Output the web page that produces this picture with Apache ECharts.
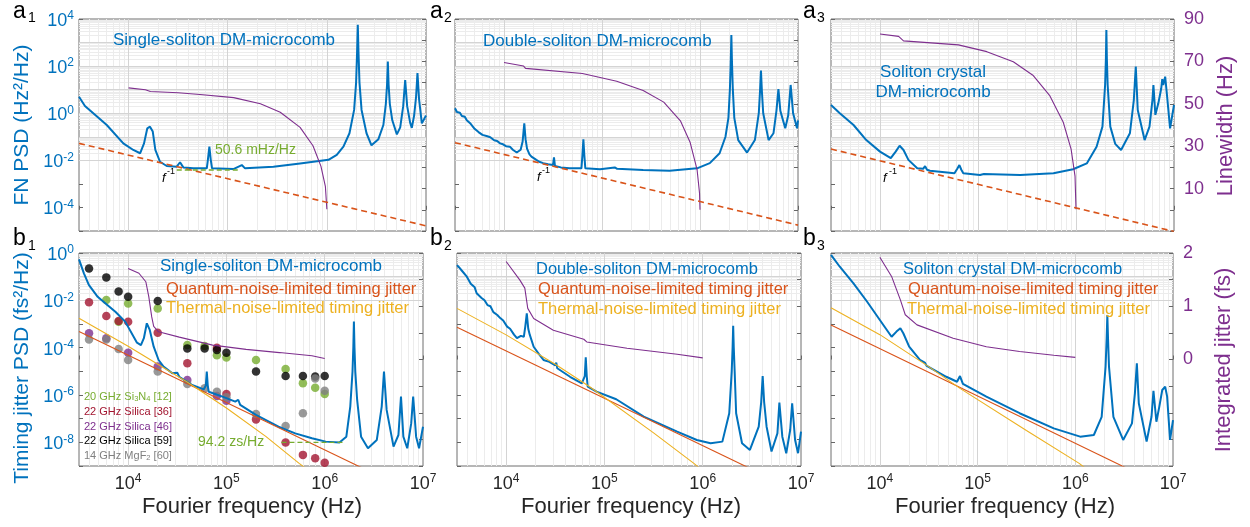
<!DOCTYPE html>
<html>
<head>
<meta charset="utf-8">
<script src="https://cdn.jsdelivr.net/npm/echarts@6/dist/echarts.min.js"></script>
<style>
html, body { margin: 0; padding: 0; background: #fff; }
#chart { width: 1250px; height: 527px; }
</style>
</head>
<body>
<div id="chart"></div>
<script>
var FONT = '"Liberation Sans", Arial, Helvetica, sans-serif';
var FMIN = Math.pow(10, 3.5), FMAX = 1e7;

// ---- FN PSD, [log10 f (Hz), log10 PSD (Hz^2/Hz)] ----
var a1Fn = [[3.5,0.70],[3.56,0.31],[3.644,0.0],[3.78,-0.50],[3.947,-1.28],[4.048,-1.56],[4.116,-1.70],[4.156,-1.28],[4.189,-0.64],[4.216,-0.57],[4.244,-0.78],[4.27,-1.56],[4.317,-2.06],[4.385,-2.24],[4.486,-2.27],[4.519,-2.08],[4.552,-2.30],[4.653,-2.34],[4.789,-2.34],[4.80,-1.98],[4.815,-1.42],[4.829,-1.98],[4.842,-2.34],[5.057,-2.37],[5.142,-2.20],[5.175,-2.34],[5.461,-2.27],[5.73,-2.13],[6.016,-1.98],[6.10,-1.77],[6.167,-1.42],[6.228,-0.85],[6.275,0.14],[6.295,1.3],[6.305,2.6],[6.312,3.75],[6.319,2.6],[6.329,1.3],[6.35,0.14],[6.40,-0.85],[6.45,-1.36],[6.52,-1.1],[6.57,-0.5],[6.595,0.4],[6.607,1.2],[6.615,2.19],[6.623,1.2],[6.635,0.4],[6.66,-0.3],[6.706,-0.9],[6.74,-0.6],[6.77,0.3],[6.79,1.41],[6.81,0.3],[6.84,-0.4],[6.857,-0.62],[6.88,-0.1],[6.90,0.7],[6.914,1.70],[6.93,0.6],[6.958,-0.43],[7.0,-0.1]];
var a2Fn = [[3.5,0.21],[3.52,0.05],[3.55,0.02],[3.57,-0.12],[3.60,-0.15],[3.62,-0.30],[3.64,-0.34],[3.66,-0.45],[3.68,-0.52],[3.70,-0.66],[3.72,-0.62],[3.74,-0.80],[3.76,-0.76],[3.78,-0.92],[3.80,-0.86],[3.83,-0.98],[3.86,-1.02],[3.88,-0.95],[3.90,-1.15],[3.93,-1.18],[3.96,-1.28],[3.99,-1.32],[4.02,-1.40],[4.06,-1.42],[4.09,-1.55],[4.13,-1.67],[4.17,-1.55],[4.19,-1.2],[4.207,-0.43],[4.22,-1.1],[4.235,-1.5],[4.26,-1.75],[4.28,-1.84],[4.30,-1.9],[4.33,-1.98],[4.36,-2.06],[4.40,-2.12],[4.45,-2.17],[4.50,-2.2],[4.51,-1.87],[4.52,-2.24],[4.58,-2.30],[4.67,-2.34],[4.79,-2.34],[4.80,-1.8],[4.81,-1.11],[4.82,-1.8],[4.83,-2.34],[4.98,-2.38],[5.13,-2.30],[5.14,-2.22],[5.155,-2.36],[5.42,-2.41],[5.69,-2.44],[5.97,-2.34],[6.10,-2.12],[6.20,-1.7],[6.26,-1.0],[6.29,-0.2],[6.305,1.0],[6.314,2.2],[6.32,3.32],[6.326,2.2],[6.335,1.0],[6.35,-0.2],[6.39,-1.14],[6.48,-1.67],[6.56,-1.14],[6.60,0.0],[6.612,0.9],[6.622,1.81],[6.632,0.9],[6.645,0.0],[6.70,-1.14],[6.75,-0.85],[6.78,0.1],[6.80,1.02],[6.82,0.1],[6.87,-0.64],[6.90,-0.1],[6.925,1.2],[6.95,0.0],[6.99,-0.64],[7.0,-0.3]];
var a3Fn = [[3.5,0.35],[3.59,0.0],[3.73,-0.5],[3.86,-1.14],[4.0,-1.63],[4.11,-1.91],[4.16,-1.63],[4.20,-1.38],[4.24,-1.56],[4.29,-1.98],[4.38,-2.34],[4.44,-2.36],[4.46,-2.25],[4.48,-2.40],[4.51,-2.44],[4.76,-2.55],[4.79,-2.35],[4.81,-2.2],[4.83,-2.4],[4.85,-2.55],[5.02,-2.62],[5.06,-2.58],[5.08,-2.62],[5.43,-2.62],[5.77,-2.55],[5.97,-2.38],[6.11,-2.13],[6.21,-1.42],[6.27,-0.57],[6.297,1.2],[6.305,2.3],[6.31,3.53],[6.315,2.3],[6.323,1.2],[6.35,-0.57],[6.40,-1.3],[6.46,-1.56],[6.55,-0.85],[6.59,0.56],[6.61,1.98],[6.63,0.14],[6.70,-1.14],[6.75,-0.57],[6.78,0.56],[6.79,1.2],[6.81,-0.07],[6.84,0.42],[6.87,1.06],[6.88,1.45],[6.89,1.2],[6.91,1.55],[6.93,0.7],[6.96,-0.64],[7.0,0.35]];

// f^-1 guide lines, [log10 f, log10 PSD]
var a1Fit = [[3.5,-1.28],[7,-4.78]];
var a2Fit = [[3.5,-1.25],[7,-4.75]];
var a3Fit = [[3.5,-1.52],[7,-5.02]];
var a1Floor = [[4.486,-2.41],[5.125,-2.41]];

// linewidth, [log10 f, Hz]
var a1Lw = [[4.0,57.5],[4.17,56.6],[4.22,55.8],[4.5,55.2],[4.72,54.4],[5.06,52.9],[5.33,50],[5.53,46],[5.73,38.9],[5.86,30.2],[5.94,20.6],[5.985,11.1],[6.0,0.3]];
var a2Lw = [[4.0,69.5],[4.20,67.8],[4.22,66.7],[4.80,64.3],[4.82,63.5],[5.15,60.6],[5.42,56.3],[5.63,50.8],[5.80,42],[5.90,31.7],[5.97,19],[5.995,8],[6.0,0]];
var a3Lw = [[4.0,82.9],[4.19,81.8],[4.24,79.7],[4.80,77.8],[5.09,74.6],[5.36,69.8],[5.56,63.5],[5.73,54],[5.87,41.3],[5.95,28.6],[5.99,15.9],[6.0,0.3]];

// timing jitter PSD, [log10 f, log10 PSD (fs^2/Hz)]
var b1Tj = [[3.5,-0.27],[3.55,-0.86],[3.60,-1.35],[3.69,-1.85],[3.77,-2.13],[3.87,-2.48],[3.97,-2.9],[4.09,-3.79],[4.13,-3.89],[4.16,-3.6],[4.19,-2.97],[4.22,-3.25],[4.26,-3.96],[4.31,-4.52],[4.36,-4.8],[4.45,-5.08],[4.50,-5.06],[4.52,-5.23],[4.65,-5.58],[4.77,-5.76],[4.79,-5.6],[4.80,-5.01],[4.81,-5.6],[4.82,-5.86],[4.96,-6.07],[5.09,-6.28],[5.12,-6.2],[5.14,-6.42],[5.30,-6.84],[5.53,-7.34],[5.70,-7.62],[5.87,-7.83],[6.01,-7.97],[6.15,-8.01],[6.22,-7.76],[6.26,-6.49],[6.283,-5.0],[6.291,-4.0],[6.297,-2.9],[6.303,-4.0],[6.311,-5.0],[6.33,-6.21],[6.37,-7.76],[6.44,-8.25],[6.53,-7.9],[6.58,-6.49],[6.603,-5.01],[6.63,-6.63],[6.70,-8.18],[6.75,-7.69],[6.776,-6.07],[6.80,-7.76],[6.84,-8.25],[6.88,-7.2],[6.90,-6.07],[6.93,-7.76],[6.96,-8.25],[7.0,-7.34]];
var b2Tj = [[3.5,-0.51],[3.52,-0.6],[3.55,-0.75],[3.57,-0.8],[3.60,-1.0],[3.62,-1.05],[3.64,-1.3],[3.66,-1.35],[3.68,-1.45],[3.70,-1.70],[3.72,-1.65],[3.75,-1.9],[3.78,-2.0],[3.81,-2.2],[3.84,-2.25],[3.87,-2.5],[3.91,-2.62],[3.94,-2.75],[3.97,-2.85],[4.01,-3.11],[4.04,-3.2],[4.08,-3.45],[4.11,-3.6],[4.15,-3.5],[4.18,-3.54],[4.195,-3.1],[4.21,-2.55],[4.225,-3.2],[4.24,-3.45],[4.28,-3.96],[4.33,-4.25],[4.38,-4.52],[4.44,-4.6],[4.50,-4.75],[4.51,-4.63],[4.52,-4.87],[4.65,-5.23],[4.77,-5.51],[4.80,-5.2],[4.81,-4.41],[4.82,-5.2],[4.83,-5.65],[4.92,-5.86],[5.12,-6.18],[5.13,-6.10],[5.14,-6.25],[5.40,-6.91],[5.74,-7.55],[5.94,-7.90],[6.08,-8.04],[6.20,-7.97],[6.27,-6.77],[6.295,-5.0],[6.304,-4.0],[6.31,-3.08],[6.316,-4.0],[6.325,-5.0],[6.34,-6.77],[6.40,-8.04],[6.48,-8.32],[6.57,-7.34],[6.595,-6.3],[6.61,-5.20],[6.625,-6.3],[6.65,-7.34],[6.70,-8.39],[6.76,-7.62],[6.78,-6.32],[6.81,-7.76],[6.85,-8.46],[6.89,-7.48],[6.91,-6.35],[6.94,-7.90],[6.97,-8.46],[7.0,-7.55]];
var b3Tj = [[3.5,-0.08],[3.59,-0.58],[3.73,-1.28],[3.87,-2.06],[4.0,-2.83],[4.12,-3.54],[4.17,-3.32],[4.21,-3.18],[4.24,-3.39],[4.30,-3.96],[4.41,-4.52],[4.46,-4.63],[4.48,-4.77],[4.68,-5.23],[4.79,-5.44],[4.82,-5.2],[4.85,-5.53],[5.09,-6.07],[5.43,-6.77],[5.78,-7.41],[6.05,-7.76],[6.19,-7.69],[6.27,-6.92],[6.31,-4.8],[6.321,-3.6],[6.328,-2.62],[6.335,-3.6],[6.345,-4.8],[6.39,-6.92],[6.49,-7.90],[6.58,-7.2],[6.61,-5.93],[6.63,-4.66],[6.65,-6.35],[6.73,-7.97],[6.78,-6.92],[6.80,-5.82],[6.83,-7.13],[6.86,-6.49],[6.89,-5.79],[6.92,-5.65],[6.94,-6.07],[6.97,-7.90],[7.0,-7.06]];

var b1Quantum = [[3.5,-3.32],[7,-10.32]];
var b2Quantum = [[3.5,-3.14],[7,-10.14]];
var b3Quantum = [[3.5,-3.04],[7,-10.04]];
var b1Thermal = [[3.5,-2.76],[4.0,-3.94],[4.6,-5.45],[5.0,-6.55],[5.4,-7.75],[5.74,-8.89],[6.0,-9.7]];
var b2Thermal = [[3.5,-2.34],[4.0,-3.46],[4.5,-4.7],[4.85,-5.65],[5.5,-7.6],[5.91,-8.89],[6.0,-9.2]];
var b3Thermal = [[3.5,-2.31],[4.0,-3.45],[4.5,-4.8],[4.82,-5.72],[5.5,-7.5],[6.04,-8.89],[6.2,-9.4]];
var b1Floor = [[5.56,-8.0],[6.21,-8.0]];

// integrated jitter, [log10 f, fs]
var b1Int = [[4.0,1.71],[4.11,1.62],[4.18,1.46],[4.21,1.18],[4.24,0.80],[4.26,0.62],[4.31,0.52],[4.52,0.42],[4.86,0.27],[5.20,0.19],[5.54,0.13],[5.87,0.07],[6.0,0.02]];
var b2Int = [[4.0,1.84],[4.14,1.49],[4.19,1.34],[4.22,0.96],[4.28,0.77],[4.48,0.55],[4.79,0.38],[4.82,0.33],[5.23,0.21],[5.74,0.10],[6.0,0.03]];
var b3Int = [[4.0,1.92],[4.12,1.56],[4.21,1.12],[4.26,0.84],[4.38,0.65],[4.75,0.40],[5.09,0.24],[5.43,0.15],[5.78,0.08],[6.0,0.04]];

// other microcombs (b1), log10 PSD at dotF
var dotF = [4e3,6e3,8e3,1e4,2e4,4e4,6e4,8e4,1e5,2e5,4e5,6e5,8e5,1e6];
var si3n4Ref12  = [null,-1.99,-2.9,-2.13,-2.34,-3.89,-3.93,-4.32,-4.42,-4.52,-4.9,-5.5,-5.69,-5.96];
var silicaRef36 = [-2.08,-2.66,-2.87,-2.9,-3.37,-4.66,null,-4.0,-5.96,-7.03,-8.01,-8.53,-8.67,-8.86];
var silicaRef46 = [-3.39,-3.6,null,-4.21,-4.8,-5.37,null,-6.04,-6.24,null,null,null,null,null];
var silicaRef59 = [-0.65,-1.03,-1.63,-1.85,-2.03,-4.03,-4.03,-4.1,-4.21,-5.01,-5.2,-5.2,-5.22,-5.2];
var mgf2Ref60   = [-3.65,-3.65,-4.06,-4.52,-5.01,-5.54,-5.72,-5.86,-6.1,-6.8,-7.31,-6.77,-5.3,-5.82];

// tick labels
var aPsdTicks = [4, 2, 0, -2, -4];
var bPsdTicks = [0, -2, -4, -6, -8];
var freqTicks = [4, 5, 6, 7];
var lwTicks = [10, 30, 50, 70, 90];
var jitTicks = [0, 1, 2];

var BLUE = '#0072BD', RED = '#D95319', YEL = '#EDB120', PUR = '#7E2F8E', GRN = '#77AC30', DARK = '#262626';

function logPts(arr) { return arr.map(function (p) { return [Math.pow(10, p[0]), Math.pow(10, p[1])]; }); }
function linPts(arr) { return arr.map(function (p) { return [Math.pow(10, p[0]), p[1]]; }); }
function dotPts(vals) {
  var out = [];
  vals.forEach(function (v, i) { if (v !== null) out.push([dotF[i], Math.pow(10, v)]); });
  return out;
}

var grids = [
  { left: 79, top: 19, width: 347, height: 212 },
  { left: 455, top: 19, width: 343, height: 212 },
  { left: 831, top: 19, width: 343, height: 212 },
  { left: 79, top: 253, width: 344, height: 213 },
  { left: 457, top: 253, width: 344, height: 213 },
  { left: 831, top: 253, width: 342, height: 213 }
];

function powRich(color) {
  return {
    b: { fontSize: 18, color: color, fontFamily: FONT, lineHeight: 18, padding: [4, 0, 0, 0] },
    s: { fontSize: 12, color: color, fontFamily: FONT, verticalAlign: 'top' }
  };
}
function powFmt(list) {
  return function (v) {
    var l = Math.log10(v), e = Math.round(l);
    if (Math.abs(l - e) > 1e-6 || list.indexOf(e) < 0) return '';
    return '{b|10}{s|' + e + '}';
  };
}

var xAxes = [], yAxes = [], series = [];
grids.forEach(function (g, i) {
  var top = i < 3;
  xAxes.push({
    type: 'log', gridIndex: i, min: FMIN, max: FMAX,
    axisLine: { show: false }, splitLine: { show: false },
    axisTick: { show: true, inside: true, length: 4, lineStyle: { color: '#666' } },
    axisLabel: { show: !top, margin: 7, formatter: powFmt(freqTicks), rich: powRich(DARK) }
  });
  yAxes.push({
    type: 'log', gridIndex: i, min: top ? 1e-5 : 1e-9, max: top ? 1e4 : 1,
    axisLine: { show: false }, splitLine: { show: false },
    axisTick: { show: true, inside: true, length: 4, lineStyle: { color: '#666' } },
    axisLabel: { show: i === 0 || i === 3, margin: 5, formatter: powFmt(top ? aPsdTicks : bPsdTicks), rich: powRich(BLUE) }
  });
  yAxes.push({
    type: 'value', gridIndex: i, position: 'right',
    min: top ? -10 : -2, max: top ? 90 : 2, interval: top ? 10 : 0.5,
    axisLine: { show: false }, splitLine: { show: false },
    axisTick: { show: true, inside: true, length: 4, lineStyle: { color: '#666' } },
    axisLabel: {
      show: i === 2 || i === 5, margin: 10, color: PUR, fontSize: 18, fontFamily: FONT,
      formatter: function (v) { return (top ? lwTicks : jitTicks).indexOf(v) >= 0 ? String(v) : ''; }
    }
  });

  // MATLAB-like grid lines, kept under the curves
  var minor = [], major = [];
  var d, k;
  for (d = 3; d <= 6; d++) for (k = 1; k <= 9; k++) {
    var f = k * Math.pow(10, d);
    if (f <= FMIN * 1.001 || f >= FMAX) continue;
    (k === 1 ? major : minor).push({ xAxis: f });
  }
  var yLo = top ? -5 : -9, yHi = top ? 4 : 0;
  for (d = yLo; d < yHi; d++) for (k = 1; k <= 9; k++) {
    if (k === 1 && d === yLo) continue;
    (k === 1 ? major : minor).push({ yAxis: k * Math.pow(10, d) });
  }
  [[minor, '#ececec'], [major, '#d4d4d4']].forEach(function (set, n) {
    series.push({
      type: 'line', xAxisIndex: i, yAxisIndex: 2 * i, data: [], z: 0, silent: true,
      markLine: { z: n, zlevel: 0, symbol: 'none', silent: true, animation: false, label: { show: false },
        lineStyle: { color: set[1], width: 1, type: 'solid' }, data: set[0] }
    });
  });
});

function line(i, right, data, color, width, type, z) {
  return {
    type: 'line', xAxisIndex: i, yAxisIndex: 2 * i + (right ? 1 : 0), data: data,
    showSymbol: false, symbol: 'none', silent: true, clip: true, z: z || 4,
    lineStyle: { color: color, width: width, type: type || 'solid' }
  };
}

series.push(line(0, false, logPts(a1Fn), BLUE, 2));
series.push(line(1, false, logPts(a2Fn), BLUE, 2));
series.push(line(2, false, logPts(a3Fn), BLUE, 2));
series.push(line(0, false, logPts(a1Fit), RED, 1.6, [6, 4], 5));
series.push(line(1, false, logPts(a2Fit), RED, 1.6, [6, 4], 5));
series.push(line(2, false, logPts(a3Fit), RED, 1.6, [6, 4], 5));
series.push(line(0, false, logPts(a1Floor), GRN, 1.4, [5, 3], 5));
series.push(line(0, true, linPts(a1Lw), PUR, 1.1));
series.push(line(1, true, linPts(a2Lw), PUR, 1.1));
series.push(line(2, true, linPts(a3Lw), PUR, 1.1));

[[si3n4Ref12, GRN], [silicaRef36, '#A2142F'], [silicaRef46, PUR], [silicaRef59, '#000000'], [mgf2Ref60, '#808080']].forEach(function (s) {
  series.push({ type: 'scatter', xAxisIndex: 3, yAxisIndex: 6, data: dotPts(s[0]), symbolSize: 8.5, silent: true, z: 3, itemStyle: { color: s[1] } });
});

series.push(line(3, false, logPts(b1Tj), BLUE, 2));
series.push(line(4, false, logPts(b2Tj), BLUE, 2));
series.push(line(5, false, logPts(b3Tj), BLUE, 2));
series.push(line(3, false, logPts(b1Quantum), RED, 1.1, 'solid', 5));
series.push(line(4, false, logPts(b2Quantum), RED, 1.1, 'solid', 5));
series.push(line(5, false, logPts(b3Quantum), RED, 1.1, 'solid', 5));
series.push(line(3, false, logPts(b1Thermal), YEL, 1.1, 'solid', 5));
series.push(line(4, false, logPts(b2Thermal), YEL, 1.1, 'solid', 5));
series.push(line(5, false, logPts(b3Thermal), YEL, 1.1, 'solid', 5));
series.push(line(3, false, logPts(b1Floor), GRN, 1.4, [5, 3], 5));
series.push(line(3, true, linPts(b1Int), PUR, 1.1));
series.push(line(4, true, linPts(b2Int), PUR, 1.1));
series.push(line(5, true, linPts(b3Int), PUR, 1.1));

// texts
function txt(x, y, s, size, color, o) {
  o = o || {};
  return {
    type: 'text', x: x, y: y, silent: true, z: 100, rotation: o.rot || 0,
    style: {
      text: s, fill: color, fontSize: size, fontFamily: FONT, fontStyle: o.italic ? 'italic' : 'normal',
      align: o.align || 'left', verticalAlign: 'middle', rich: o.rich
    }
  };
}
var subRich = { s: { fontSize: 7.5, fontFamily: FONT, verticalAlign: 'bottom', padding: [4, 0, 0, 0] } };
function withColor(rich, c) { return { s: Object.assign({}, rich.s, { fill: c, color: c }) }; }

var graphics = [
  // panel letters
  txt(13, 12, 'a', 23, '#000'), txt(28, 18, '1', 14, '#000'),
  txt(430, 12, 'a', 23, '#000'), txt(444, 18, '2', 14, '#000'),
  txt(803, 12, 'a', 23, '#000'), txt(817, 18, '3', 14, '#000'),
  txt(13, 239, 'b', 23, '#000'), txt(28, 246, '1', 14, '#000'),
  txt(430, 239, 'b', 23, '#000'), txt(444, 246, '2', 14, '#000'),
  txt(803, 239, 'b', 23, '#000'), txt(817, 246, '3', 14, '#000'),
  // axis titles
  txt(22, 125, 'FN PSD (Hz\u00b2/Hz)', 21, BLUE, { rot: Math.PI / 2, align: 'center' }),
  txt(22, 368, 'Timing jitter PSD (fs\u00b2/Hz)', 21, BLUE, { rot: Math.PI / 2, align: 'center' }),
  txt(1226, 126, 'Linewidth (Hz)', 22, PUR, { rot: Math.PI / 2, align: 'center' }),
  txt(1224, 360, 'Integrated jitter (fs)', 22, PUR, { rot: Math.PI / 2, align: 'center' }),
  txt(252, 507, 'Fourier frequency (Hz)', 22, DARK, { align: 'center' }),
  txt(631, 507, 'Fourier frequency (Hz)', 22, DARK, { align: 'center' }),
  txt(1005, 507, 'Fourier frequency (Hz)', 22, DARK, { align: 'center' }),
  // a-row annotations
  txt(113, 40, 'Single-soliton DM-microcomb', 17, BLUE),
  txt(483, 41, 'Double-soliton DM-microcomb', 17, BLUE),
  txt(933, 72, 'Soliton crystal', 17, BLUE, { align: 'center' }),
  txt(933, 92, 'DM-microcomb', 17, BLUE, { align: 'center' }),
  txt(215, 150, '50.6 mHz/Hz', 14, GRN),
  txt(162, 178, 'f', 13, '#000', { italic: true }), txt(167, 172, '-1', 9, '#000'),
  txt(537, 177, 'f', 13, '#000', { italic: true }), txt(542, 171, '-1', 9, '#000'),
  txt(883, 178, 'f', 13, '#000', { italic: true }), txt(889, 172, '-1', 9, '#000'),
  // b-row annotations
  txt(160, 266, 'Single-soliton DM-microcomb', 17, BLUE),
  txt(166, 289, 'Quantum-noise-limited timing jitter', 16.5, RED),
  txt(166, 308, 'Thermal-noise-limited timing jitter', 16.5, YEL),
  txt(536, 269, 'Double-soliton DM-microcomb', 16.5, BLUE),
  txt(538, 289, 'Quantum-noise-limited timing jitter', 16.5, RED),
  txt(538, 309, 'Thermal-noise-limited timing jitter', 16.5, YEL),
  txt(903, 269, 'Soliton crystal DM-microcomb', 16.5, BLUE),
  txt(908, 289, 'Quantum-noise-limited timing jitter', 16.5, RED),
  txt(907, 309, 'Thermal-noise-limited timing jitter', 16.5, YEL),
  txt(198, 442, '94.2 zs/Hz', 14, GRN),
  // reference legend
  txt(84, 397, '20 GHz Si{s|3}N{s|4} [12]', 11, GRN, { rich: withColor(subRich, GRN) }),
  txt(84, 412, '22 GHz Silica [36]', 11, '#A2142F'),
  txt(84, 427, '22 GHz Silica [46]', 11, PUR),
  txt(84, 441, '22 GHz Silica [59]', 11, '#000'),
  txt(84, 456, '14 GHz MgF{s|2} [60]', 11, '#808080', { rich: withColor(subRich, '#808080') })
];

var chart = echarts.init(document.getElementById('chart'), null, { renderer: 'canvas' });
chart.setOption({
  animation: false,
  backgroundColor: '#fff',
  textStyle: { fontFamily: FONT },
  grid: grids.map(function (g) {
    return Object.assign({ show: true, borderColor: '#6e6e6e', borderWidth: 1, backgroundColor: '#fff' }, g);
  }),
  xAxis: xAxes,
  yAxis: yAxes,
  series: series,
  graphic: graphics
});
</script>
</body>
</html>
